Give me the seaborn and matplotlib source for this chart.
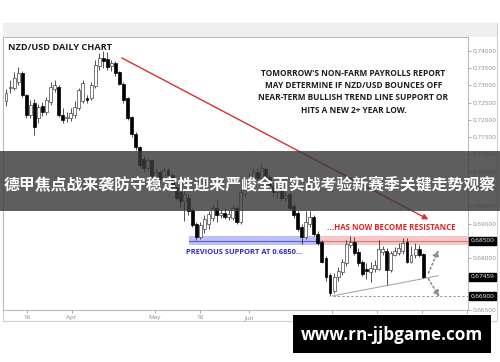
import matplotlib
matplotlib.use("Agg")
import matplotlib.pyplot as plt
import seaborn as sns
import pandas as pd
from matplotlib.patches import Rectangle

# ---------------- data ----------------
opens = [0.7255, 0.7291, 0.7291, 0.7310, 0.7336, 0.7272, 0.7214, 0.7249, 0.7205, 0.7240,
         0.7222, 0.7252, 0.7290, 0.7295, 0.7215, 0.7205, 0.7205, 0.7215, 0.7235, 0.7255,
         0.7262, 0.7262, 0.7298, 0.7355, 0.7380, 0.7375, 0.7355, 0.7365, 0.7338, 0.7305,
         0.7262, 0.7208, 0.7160, 0.7120, 0.7088, 0.7062, 0.7084, 0.7035, 0.7048, 0.7032,
         0.7055, 0.7040, 0.7005, 0.6990, 0.6965, 0.6975, 0.6940, 0.6900, 0.6862, 0.6885,
         0.6900, 0.6915, 0.6945, 0.6925, 0.6930, 0.6920, 0.6915, 0.6945, 0.6905, 0.6985,
         0.7010, 0.7028, 0.7050, 0.7032, 0.7058, 0.7035, 0.7010, 0.6990, 0.6998, 0.6975,
         0.6985, 0.6950, 0.6930, 0.6890, 0.6862, 0.6900, 0.6918, 0.6870, 0.6848, 0.6800,
         0.6750, 0.6705, 0.6745, 0.6760, 0.6785, 0.6838, 0.6848, 0.6818, 0.6790, 0.6770,
         0.6760, 0.6770, 0.6770, 0.6818, 0.6820, 0.6765, 0.6810, 0.6815, 0.6820, 0.6848,
         0.6790, 0.6808, 0.6825, 0.6812]
highs = [0.7289, 0.7315, 0.7338, 0.7353, 0.7342, 0.7275, 0.7258, 0.7260, 0.7245, 0.7252,
         0.7265, 0.7310, 0.7315, 0.7300, 0.7235, 0.7222, 0.7235, 0.7255, 0.7292, 0.7315,
         0.7272, 0.7310, 0.7372, 0.7392, 0.7400, 0.7395, 0.7372, 0.7370, 0.7342, 0.7310,
         0.7265, 0.7212, 0.7165, 0.7125, 0.7095, 0.7092, 0.7088, 0.7060, 0.7055, 0.7065,
         0.7062, 0.7045, 0.7010, 0.6998, 0.6998, 0.6985, 0.6945, 0.6905, 0.6905, 0.6925,
         0.6935, 0.6955, 0.6968, 0.6940, 0.6945, 0.6940, 0.6955, 0.6950, 0.7000, 0.7025,
         0.7045, 0.7062, 0.7060, 0.7072, 0.7065, 0.7040, 0.7020, 0.7008, 0.7005, 0.6995,
         0.6990, 0.6960, 0.6935, 0.6900, 0.6935, 0.6935, 0.6925, 0.6878, 0.6852, 0.6805,
         0.6758, 0.6758, 0.6775, 0.6798, 0.6852, 0.6865, 0.6862, 0.6830, 0.6795, 0.6785,
         0.6790, 0.6795, 0.6852, 0.6835, 0.6828, 0.6822, 0.6832, 0.6845, 0.6858, 0.6858,
         0.6835, 0.6845, 0.6838, 0.6815]
lows = [0.7240, 0.7278, 0.7286, 0.7301, 0.7266, 0.7205, 0.7206, 0.7156, 0.7190, 0.7212,
        0.7215, 0.7243, 0.7280, 0.7208, 0.7190, 0.7195, 0.7198, 0.7205, 0.7228, 0.7248,
        0.7250, 0.7258, 0.7292, 0.7345, 0.7350, 0.7345, 0.7340, 0.7328, 0.7300, 0.7250,
        0.7200, 0.7150, 0.7112, 0.7062, 0.7052, 0.7055, 0.7030, 0.7025, 0.7015, 0.7025,
        0.7030, 0.7000, 0.6968, 0.6945, 0.6908, 0.6925, 0.6890, 0.6853, 0.6855, 0.6872,
        0.6885, 0.6908, 0.6905, 0.6915, 0.6912, 0.6910, 0.6910, 0.6900, 0.6900, 0.6978,
        0.7002, 0.7020, 0.7025, 0.7028, 0.7028, 0.7000, 0.6980, 0.6975, 0.6968, 0.6965,
        0.6940, 0.6915, 0.6878, 0.6840, 0.6855, 0.6890, 0.6865, 0.6838, 0.6785, 0.6735,
        0.6691, 0.6698, 0.6735, 0.6752, 0.6778, 0.6830, 0.6808, 0.6778, 0.6748, 0.6740,
        0.6730, 0.6760, 0.6765, 0.6810, 0.6723, 0.6760, 0.6805, 0.6808, 0.6812, 0.6785,
        0.6785, 0.6800, 0.6802, 0.6742]
closes = [0.7278, 0.7294, 0.7321, 0.7336, 0.7272, 0.7214, 0.7243, 0.7180, 0.7237, 0.7222,
          0.7258, 0.7295, 0.7300, 0.7215, 0.7200, 0.7208, 0.7220, 0.7238, 0.7285, 0.7306,
          0.7258, 0.7300, 0.7360, 0.7378, 0.7370, 0.7352, 0.7365, 0.7335, 0.7305, 0.7258,
          0.7205, 0.7160, 0.7120, 0.7070, 0.7060, 0.7084, 0.7035, 0.7050, 0.7030, 0.7055,
          0.7040, 0.7005, 0.6975, 0.6965, 0.6985, 0.6935, 0.6895, 0.6862, 0.6895, 0.6912,
          0.6928, 0.6945, 0.6925, 0.6930, 0.6920, 0.6928, 0.6945, 0.6905, 0.6990, 0.7012,
          0.7030, 0.7050, 0.7032, 0.7060, 0.7035, 0.7010, 0.6990, 0.7000, 0.6975, 0.6982,
          0.6945, 0.6925, 0.6885, 0.6862, 0.6905, 0.6920, 0.6870, 0.6845, 0.6790, 0.6745,
          0.6700, 0.6745, 0.6762, 0.6790, 0.6840, 0.6848, 0.6815, 0.6785, 0.6755, 0.6762,
          0.6772, 0.6780, 0.6825, 0.6825, 0.6765, 0.6815, 0.6822, 0.6830, 0.6845, 0.6790,
          0.6808, 0.6825, 0.6810, 0.6746]

date_tick_pos = [5.1, 16.2, 36.8, 47.9, 60.0, 80.5, 91.5, 102.6, 113.8]
date_tick_labels = ["16", "Apr", "May", "16", "Jun", "Jul", "17", "Aug", "16"]
price_ticks = [0.665, 0.670, 0.675, 0.680, 0.685, 0.690, 0.695, 0.700, 0.705,
               0.710, 0.715, 0.720, 0.725, 0.730, 0.735, 0.740]
marked_prices = [0.68500, 0.67459, 0.66900]
support_level = 0.6850
recent_low = 0.6690

title = "NZD/USD DAILY CHART"
note_lines = ["TOMORROW'S NON-FARM PAYROLLS REPORT",
              "MAY DETERMINE IF NZD/USD BOUNCES OFF",
              "NEAR-TERM BULLISH TREND LINE SUPPORT OR",
              "HITS A NEW 2+ YEAR LOW."]
support_text = "PREVIOUS SUPPORT AT 0.6850..."
resist_text = "...HAS NOW BECOME RESISTANCE"
banner_text = "德甲焦点战来袭防守稳定性迎来严峻全面实战考验新赛季关键走势观察"
url_text = "www.rn-jjbgame.com"

df = pd.DataFrame({"day": range(len(opens)), "open": opens, "high": highs,
                   "low": lows, "close": closes})
df["up"] = df["close"] >= df["open"]
df["body_lo"] = df[["open", "close"]].min(axis=1)
df["body_h"] = (df["close"] - df["open"]).abs().clip(lower=0.00012)

# ---------------- figure ----------------
sns.set_theme(style="white")
plt.rcParams["font.family"] = ["Open Sans", "DejaVu Sans"]

W, H = 500, 362
fig = plt.figure(figsize=(5.0, 3.62), dpi=100)
fig.patch.set_facecolor("white")

def fx(x):
    return x / W

def fy(y):
    return 1 - y / H

# outer chart frame
fig.patches.append(Rectangle((fx(3), fy(321)), fx(494), (321 - 23) / H,
                             transform=fig.transFigure, facecolor="white",
                             edgecolor="#cfcfcf", lw=0.8, zorder=-2))
fig.patches.append(Rectangle((fx(3), fy(37)), fx(494), (37 - 23) / H,
                             transform=fig.transFigure, facecolor="#efefef",
                             edgecolor="none", zorder=-1))

ax = fig.add_axes([fx(3), fy(310), fx(465), (310 - 37) / H])
ax.set_facecolor("white")
ax.set_xlim(-0.74, 114.07)
ax.set_ylim(0.66506, 0.74396)

# wicks
ax.vlines(df["day"], df["low"], df["high"], color="#333333", lw=0.6, zorder=3)
# bodies
up = df[df["up"]]
dn = df[~df["up"]]
ax.bar(up["day"], up["body_h"], bottom=up["body_lo"], width=0.72,
       color="white", edgecolor="#444444", linewidth=0.5, zorder=4)
ax.bar(dn["day"], dn["body_h"], bottom=dn["body_lo"], width=0.72,
       color="black", edgecolor="black", linewidth=0.5, zorder=4)

# support / resistance zones
ax.fill_between([45.3, 77.8], support_level - 0.0013, support_level + 0.0015,
                color="#b4b8f2", alpha=0.9, zorder=1, lw=0)
ax.plot([45.3, 77.8], [support_level, support_level], color="#5a60d0", lw=0.8, zorder=2)
ax.fill_between([77.8, 114.07], support_level - 0.0013, support_level + 0.0015,
                color="#f6c4c4", alpha=0.95, zorder=1, lw=0)
ax.plot([77.8, 114.07], [support_level, support_level], color="#d67a7a", lw=0.8, zorder=2)

# red trend arrow
ax.annotate("", xy=(104.3, 0.6912), xytext=(28.6, 0.7379),
            arrowprops=dict(arrowstyle="-|>", color="#d83030", lw=1.0,
                            mutation_scale=8, shrinkA=0, shrinkB=0), zorder=6)

# rising trend line and recent low
ax.plot([80.7, 106.7], [recent_low + 0.0001, 0.6749], color="#aaaaaa", lw=0.8, zorder=2)
ax.plot([80.7, 114.07], [recent_low, recent_low], color="#999999", lw=0.8,
        ls=(0, (2, 2)), zorder=2)

# dotted scenario arrows
ax.annotate("", xy=(106.8, 0.6823), xytext=(104.3, 0.6757),
            arrowprops=dict(arrowstyle="-|>", color="#8c8c8c", lw=1.2, ls=":",
                            mutation_scale=9, shrinkA=0, shrinkB=0))
ax.annotate("", xy=(107.0, 0.6688), xytext=(104.3, 0.6740),
            arrowprops=dict(arrowstyle="-|>", color="#8c8c8c", lw=1.2, ls=":",
                            mutation_scale=9, shrinkA=0, shrinkB=0))

# texts inside the chart
ax.text((8 - 3) / 465, (310 - 47) / 273, title, transform=ax.transAxes,
        ha="left", va="center", fontsize=6.6, fontweight="bold", color="#1e1e1e")
for k, line in enumerate(note_lines):
    ax.text((353.5 - 3) / 465, (310 - (73.5 + 12.2 * k)) / 273, line,
            transform=ax.transAxes, ha="center", va="center", fontsize=5.95,
            fontweight="bold", color="#1e1e1e")
ax.text((186 - 3) / 465, (310 - 253) / 273, support_text, transform=ax.transAxes,
        ha="left", va="center", fontsize=5.4, fontweight="bold", color="#2c2cc8")
ax.text((327 - 3) / 465, (310 - 228) / 273, resist_text, transform=ax.transAxes,
        ha="left", va="center", fontsize=5.7, fontweight="bold", color="#e02424")

# axes styling
ax.yaxis.tick_right()
ax.set_yticks(price_ticks)
hidden = [v for v in price_ticks if min(abs(v - m) for m in marked_prices) < 0.0015]
ax.set_yticklabels(["" if v in hidden else f"{v:.5f}" for v in price_ticks])
ax.set_xticks(date_tick_pos)
ax.set_xticklabels(date_tick_labels)
ax.tick_params(axis="y", which="both", right=True, length=2, width=0.5, colors="#8a8a8a",
               labelsize=4.6, pad=1.5)
ax.tick_params(axis="x", which="both", bottom=True, length=2, width=0.5, colors="#8a8a8a",
               labelsize=4.6, pad=1.5)
for side in ["left", "top", "right", "bottom"]:
    ax.spines[side].set_color("#bdbdbd")
    ax.spines[side].set_linewidth(0.8)

for v in marked_prices:
    ax.text(1.006, v, f"{v:.5f}", transform=ax.get_yaxis_transform(), ha="left",
            va="center", fontsize=4.6, color="white", zorder=8,
            bbox=dict(boxstyle="square,pad=0.25", fc="black", ec="black"))

# banner over the chart
fig.patches.append(Rectangle((0, fy(211)), 1, (211 - 151) / H, transform=fig.transFigure,
                             facecolor="#3a3a3a", alpha=0.82, edgecolor="none", zorder=5))
fig.text(0.5, fy(184), banner_text, ha="center", va="center", color="white",
         fontsize=11.4, fontweight="bold", family=["Noto Sans CJK SC", "DejaVu Sans"],
         zorder=6)

# url box
fig.patches.append(Rectangle((fx(293), fy(353)), fx(198), (353 - 315) / H,
                             transform=fig.transFigure, facecolor="black",
                             edgecolor="none", zorder=7))
fig.text(fx(392), fy(335), url_text, ha="center", va="center", color="white",
         fontsize=12.3, fontweight="bold", zorder=8)

fig.savefig("out.png", dpi=100)
